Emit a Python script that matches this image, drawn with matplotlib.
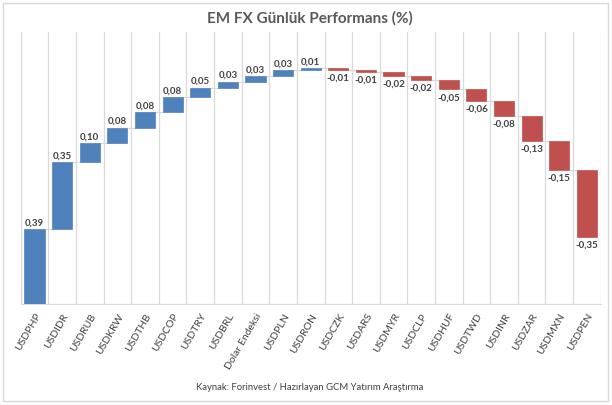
import numpy as np
import matplotlib
matplotlib.use("Agg")
import matplotlib.pyplot as plt

plt.rcParams['font.family'] = ['Lato', 'DejaVu Sans']

labels = ["USDPHP", "USDIDR", "USDRUB", "USDKRW", "USDTHB", "USDCOP", "USDTRY",
          "USDBRL", "Dolar Endeksi", "USDPLN", "USDRON", "USDCZK", "USDARS",
          "USDMYR", "USDCLP", "USDHUF", "USDTWD", "USDINR", "USDZAR", "USDMXN",
          "USDPEN"]
changes = [0.39, 0.35, 0.10, 0.08, 0.08, 0.08, 0.05, 0.03, 0.03, 0.03, 0.01,
           -0.01, -0.01, -0.02, -0.02, -0.05, -0.06, -0.08, -0.13, -0.15, -0.35]

title = "EM FX Günlük Performans (%)"
source = "Kaynak: Forinvest / Hazırlayan GCM Yatırım Araştırma"

blue = "#4F81BD"
red = "#C0504D"
grid_col = "#D9D9D9"
text_col = "#404040"

vals = np.array(changes)
ends = np.cumsum(vals)
starts = ends - vals
x = np.arange(len(vals))

fig = plt.figure(figsize=(6.12, 4.06), dpi=100)
ax = fig.add_axes([20.7 / 612, 1 - 305 / 406, 580 / 612, 272 / 406])

n = len(vals)
ax.set_xlim(-0.5, n - 0.5)
ax.set_ylim(0, 1.42)

# vertical gridlines between categories
for b in np.arange(-0.5, n, 1.0):
    ax.axvline(b, color=grid_col, lw=0.9, zorder=0)

colors = [blue if v >= 0 else red for v in vals]
w = 0.73
ax.bar(x, vals, bottom=starts, width=w, color=colors, edgecolor=colors,
       linewidth=0.5, zorder=3)

# connector lines
for i in range(n - 1):
    ax.plot([x[i] + w / 2, x[i + 1] - w / 2], [ends[i], ends[i]],
            color=grid_col, lw=0.9, zorder=2)

# value labels
for i, v in enumerate(vals):
    txt = f"{v:.2f}".replace(".", ",")
    if v >= 0:
        ax.annotate(txt, (x[i], ends[i]), xytext=(0, 2), textcoords="offset points",
                    ha="center", va="bottom", fontsize=7, fontweight="bold",
                    color=text_col)
    else:
        ax.annotate(txt, (x[i], ends[i]), xytext=(0, -2), textcoords="offset points",
                    ha="center", va="top", fontsize=7, fontweight="bold",
                    color=text_col)

ax.set_xticks(x)
ax.set_xticklabels(labels, rotation=60, ha="right", rotation_mode="anchor",
                   fontsize=7.5, color=text_col)
ax.tick_params(axis="x", length=0, pad=5)
ax.set_yticks([])

for s in ["top", "left", "right"]:
    ax.spines[s].set_visible(False)
ax.spines["bottom"].set_color(grid_col)
ax.spines["bottom"].set_linewidth(0.9)

fig.text(310 / 612, 1 - 18 / 406, title, ha="center", va="center",
         fontsize=11, fontweight="bold", color="#595959")
fig.text(310 / 612, 1 - 388 / 406, source, ha="center", va="center",
         fontsize=6.8, color=text_col)

# outer border
fig.patches.append(plt.Rectangle((3 / 612, 4 / 406), 605 / 612, 398 / 406,
                                 transform=fig.transFigure, fill=False,
                                 edgecolor=grid_col, lw=1))

fig.savefig("out.png", dpi=100)
